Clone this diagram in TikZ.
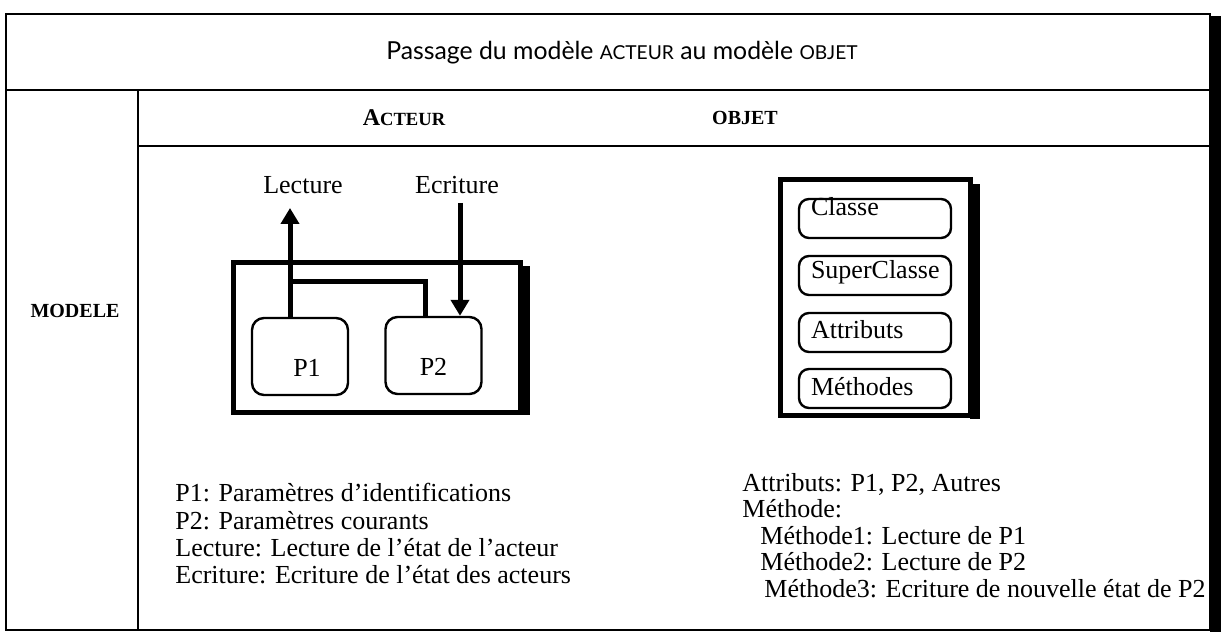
\documentclass[tikz,border=0pt]{standalone}
\usepackage{fontspec}
\setmainfont{Liberation Serif}
\newfontfamily\titrefont{Lato}
\usetikzlibrary{arrows.meta}

\newcommand{\petitcap}[2]{{\fontsize{#1}{#1}\selectfont #2}}

\begin{document}
\begin{tikzpicture}[x=0.5pt,y=-0.5pt,
  every node/.style={inner sep=0pt, font=\fontsize{13}{15}\selectfont},
  trait/.style={line width=1.3pt},
  cadre/.style={draw, line width=2.5pt},
  entete/.style={font=\fontsize{10}{12}\selectfont\bfseries},
  proc/.style={draw, rounded corners=6pt, line width=1.2pt, minimum width=48pt, minimum height=38.5pt, text height=20pt, text depth=0pt},
  champ/.style={draw, rounded corners=5pt, line width=1.2pt, minimum width=76pt, minimum height=19.5pt, text width=64pt, inner xsep=6pt, align=left},
  fleche/.style={line width=2.5pt, -{Triangle[width=9pt,length=8pt]}},
  lien/.style={line width=2.5pt}]
 \useasboundingbox (0,0) rectangle (1223,642);

 % le tableau
 \fill (1210,16) rectangle (1221,632);
 \draw[trait] (6,14) rectangle (1210,630);
 \draw[trait] (6,90) -- (1210,90) (138,90) -- (138,630) (138,146) -- (1210,146);

 \node (titre) at (622,53) {\titrefont\fontsize{12.4}{14}\selectfont Passage du modèle \petitcap{9.6}{ACTEUR} au modèle \petitcap{9.6}{OBJET}};
 \node[entete] (acteur) at (404,118) {{\fontsize{12}{12}\selectfont A}\fontsize{9.3}{12}\selectfont CTEUR};
 \node[entete] (objet) at (745,118) {OBJET};
 \node[entete] (modele) at (75,311) {MODELE};

 % modele acteur
 \fill (520,266) rectangle (530,415);
 \node[cadre, minimum width=143.5pt, minimum height=74.5pt] (acteurbox) at (376.5,337.5) {};
 \node[proc] (p1) at (300,356.5) {\hspace*{7pt}P1};
 \node[proc] (p2) at (433.5,355.5) {P2};
 \node (lect) at (303,185) {Lecture};
 \node (ecr) at (457,185) {Ecriture};
 \coordinate (lecbout) at (290,208);
 \coordinate (ecrhaut) at (460,203);
 \coordinate (coude) at (290,282);
 \draw[fleche] (lecbout |- p1.north) -- (lecbout);
 \draw[lien] (coude) -| ([xshift=-4.25pt]p2.north);
 \draw[fleche] (ecrhaut) -- (ecrhaut |- p2.north);

 % modele objet
 \fill (970,184) rectangle (980,419);
 \node[cadre, minimum width=95pt, minimum height=117.5pt] (objetbox) at (875,297.5) {};
 \foreach \n/\y/\h/\t in {cls/218.5/1.5/Classe, sup/275.5/-1.5/SuperClasse, att/332.5/-3/Attributs, meth/388.5/-3.5/Méthodes}
   \node[champ] (\n) at (875,\y) {\raisebox{\h pt}[0pt][0pt]{\t}};

 % legendes
 \foreach \t [count=\i from 0] in {P1: Paramètres d’identifications, P2: Paramètres courants, Lecture: Lecture de l’état de l’acteur, Ecriture: Ecriture de l’état des acteurs}
   \node[anchor=base west] (legA\i) at (175,{502+27*\i}) {\t};
 \foreach \x/\t [count=\i from 0] in {742/{Attributs: P1, P2, Autres}, 742/Méthode:, 760/{Méthode1: Lecture de P1}, 760/{Méthode2: Lecture de P2}, 764/{Méthode3: Ecriture de nouvelle état de P2}}
   \node[anchor=base west] (legB\i) at (\x,{491+26.5*\i}) {\t};
\end{tikzpicture}
\end{document}
